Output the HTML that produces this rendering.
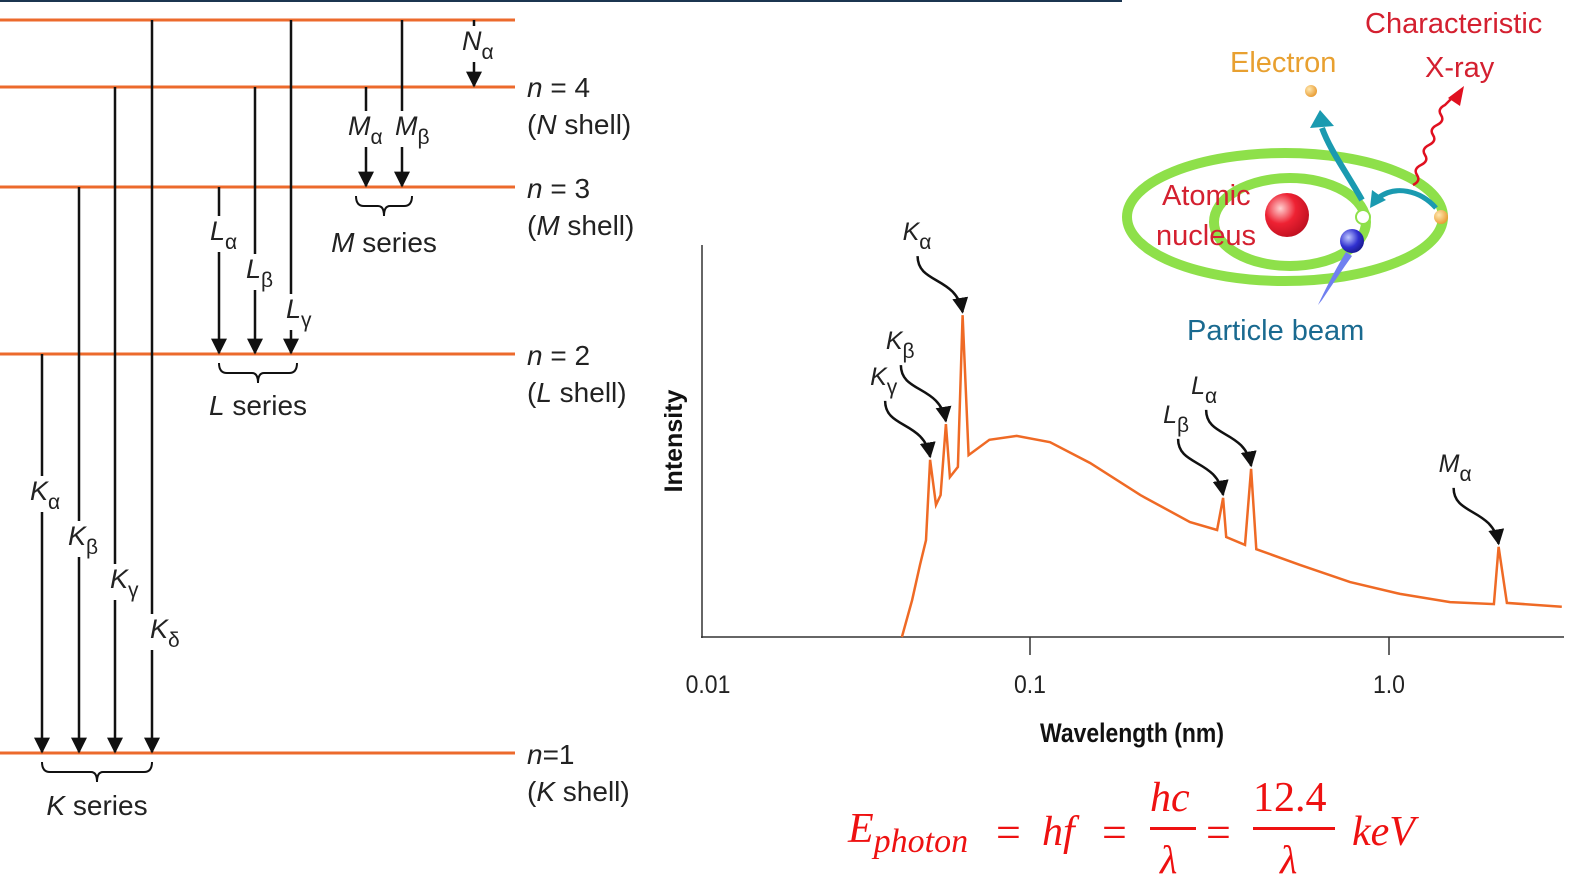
<!DOCTYPE html>
<html><head><meta charset="utf-8">
<style>
html,body{margin:0;padding:0;background:#fff;}
svg{display:block;font-family:"Liberation Sans",sans-serif;}
.lv{font-size:28px;fill:#222;}
.lab{font-size:27px;fill:#222;font-style:italic;}
.sub{font-size:21px;font-style:normal;}
</style></head>
<body>
<svg id="root" width="1582" height="883" viewBox="0 0 1582 883">
<defs>
<marker id="ah" viewBox="0 0 10 10" refX="9" refY="5" markerWidth="16" markerHeight="16" markerUnits="userSpaceOnUse" orient="auto"><path d="M0,0 L10,5 L0,10 z" fill="#111"/></marker>
<radialGradient id="gr" cx="0.35" cy="0.35" r="0.7"><stop offset="0" stop-color="#ffd0d0"/><stop offset="0.5" stop-color="#ee2233"/><stop offset="1" stop-color="#c01020"/></radialGradient>
<radialGradient id="gb" cx="0.35" cy="0.35" r="0.7"><stop offset="0" stop-color="#c0c8ff"/><stop offset="0.6" stop-color="#3030d0"/><stop offset="1" stop-color="#1a1a90"/></radialGradient>
<radialGradient id="go" cx="0.35" cy="0.35" r="0.7"><stop offset="0" stop-color="#ffe8b0"/><stop offset="1" stop-color="#e89a30"/></radialGradient>
</defs>
<rect x="0" y="0" width="1122" height="2" fill="#1b3550"/>

<g id="levels"></g>

<g id="spectrum"></g>

<g>
  <ellipse cx="1285" cy="217" rx="158" ry="64" fill="none" stroke="#8ee04a" stroke-width="10"/>
  <ellipse cx="1290" cy="222" rx="76" ry="44" fill="none" stroke="#8ee04a" stroke-width="10"/>
  <circle cx="1287" cy="215" r="22" fill="url(#gr)"/>
  <path d="M1346,252 C1335,270 1325,290 1318,305 L1322,300 C1332,285 1342,270 1352,256 z" fill="#7080f0"/>
  <circle cx="1352" cy="241" r="12" fill="url(#gb)"/>
  <circle cx="1363" cy="217" r="7" fill="#fff" stroke="#8ee04a" stroke-width="2"/>
  <circle cx="1441" cy="217" r="7" fill="url(#go)"/>
  <circle cx="1311" cy="91" r="6" fill="url(#go)"/>
  <path d="M1362,200 C1345,170 1330,150 1322,128" fill="none" stroke="#1a9ab0" stroke-width="6"/>
  <path d="M1310,128 L1320,110 L1334,126 z" fill="#1a9ab0"/>
  <path d="M1436,208 C1420,190 1395,185 1378,198" fill="none" stroke="#1a9ab0" stroke-width="5"/>
  <path d="M1370,208 L1372,190 L1386,200 z" fill="#1a9ab0"/>
  <path d="M1413,185 q8,-4 4,-10 q-4,-6 4,-10 q8,-4 4,-10 q-4,-6 4,-10 q8,-4 4,-10 q-4,-6 4,-10 q8,-4 4,-10 q-4,-6 4,-10 l6,-6" fill="none" stroke="#e01020" stroke-width="2.5"/>
  <path d="M1448,98 L1464,86 L1460,106 z" fill="#e01020"/>
  <text x="1230" y="72" font-size="29" fill="#e8a030">Electron</text>
  <text x="1365" y="33" font-size="29" fill="#d42030">Characteristic</text>
  <text x="1425" y="77" font-size="29" fill="#d42030">X-ray</text>
  <text x="1162" y="205" font-size="29" fill="#d42030">Atomic</text>
  <text x="1156" y="245" font-size="29" fill="#d42030">nucleus</text>
  <text x="1187" y="340" font-size="29" fill="#1a6a90">Particle beam</text>
</g>

<g fill="#ee1111" font-family="'Liberation Serif',serif" font-style="italic">
  <text x="848" y="842" font-size="42">E<tspan font-size="34" dy="10">photon</tspan></text>
  <text x="996" y="847" font-size="44" font-style="normal">=</text>
  <text x="1042" y="845" font-size="42">hf</text>
  <text x="1102" y="847" font-size="44" font-style="normal">=</text>
  <text x="1150" y="811" font-size="42">hc</text>
  <rect x="1150" y="827" width="46" height="3"/>
  <text x="1160" y="873" font-size="40">λ</text>
  <text x="1206" y="847" font-size="44" font-style="normal">=</text>
  <text x="1253" y="811" font-size="42" font-style="normal">12.4</text>
  <rect x="1253" y="827" width="82" height="3"/>
  <text x="1280" y="873" font-size="40">λ</text>
  <text x="1352" y="845" font-size="42">keV</text>
</g>
</svg>
<script>
// ===== Spectrum data =====
const wavelengths = [0.0407,0.0437,0.0462,0.0482,0.0496,0.0517,0.0534,0.0554,0.0570,0.0603,0.0623,0.0650,0.0752,0.0911,0.1137,0.147,0.203,0.279,0.332,0.345,0.352,0.397,0.413,0.427,0.565,0.779,1.073,1.48,1.96,2.02,2.13,3.03];
const intensities = [0,9.4,18.4,24.7,45.2,33.7,36.2,54.3,40.8,43.4,82.1,46.4,50.3,51.3,49.7,44.4,36.2,29.3,27.3,35.5,25.5,23.5,42.9,22.4,18.4,14,11,8.9,8.4,23,8.7,7.7];
const tickValues = [0.01,0.1,1.0];
const tickLabels = ["0.01","0.1","1.0"];
const peakNames = ["K","K","K","L","L","M"];
const peakSubs = ["γ","β","α","β","α","α"];
const peakLambda = [0.0496,0.0554,0.0623,0.345,0.413,2.02];
const peakIntensity = [45.2,54.3,82.1,35.5,42.9,23];

const NS="http://www.w3.org/2000/svg";
function mk(tag,attrs,parent){const e=document.createElementNS(NS,tag);for(const k in attrs)e.setAttribute(k,attrs[k]);parent.appendChild(e);return e;}
function xs(v){const l=Math.log10(v);if(l<=-1)return 702+(l+2)*328;return 1030+(l+1)*359;}
function ys(i){return 637-i*3.92;}

const sp=document.getElementById('spectrum');
const yAx=mk('line',{x1:702,y1:245,x2:702,y2:638,stroke:'#333','stroke-width':1.5},sp);


const xAx=mk('line',{x1:701,y1:637,x2:1564,y2:637,stroke:'#333','stroke-width':1.5},sp);


tickValues.forEach((v,i)=>{
  const x=xs(v);
  if(i>0){const t=mk('line',{x1:x,y1:637,x2:x,y2:655,stroke:'#333','stroke-width':1.5},sp);
  
  }
  const tx=mk('text',{x:i==0?x+6:x,y:693,'text-anchor':'middle','font-size':25,fill:'#222'},sp);
  tx.setAttribute('transform',`translate(${(i==0?x+6:x)*0.08},0) scale(0.92,1)`);
  tx.textContent=tickLabels[i];
  
  
});
const xt=mk('text',{x:1132/0.85,y:742,'text-anchor':'middle','font-size':27,'font-weight':'bold',fill:'#111',transform:'scale(0.85,1)'},sp);
xt.textContent='Wavelength (nm)';


const yt=mk('text',{x:0,y:0,'text-anchor':'middle','font-size':25,'font-weight':'bold',fill:'#111',transform:'translate(682,441) rotate(-90)'},sp);
yt.textContent='Intensity';


let d='';wavelengths.forEach((w,i)=>{d+=(i?'L':'M')+xs(w).toFixed(1)+','+ys(intensities[i]).toFixed(1);});
const line=mk('path',{d:d,fill:'none',stroke:'#ef6a25','stroke-width':2.5,'stroke-linejoin':'miter'},sp);


peakLambda.forEach((w,i)=>{
  const ex=xs(w), ey=ys(peakIntensity[i])-3;
  const sx=ex-45, sy=ey-56;
  const a=mk('path',{d:`M${sx},${sy} C${sx},${sy+28} ${ex-6},${ey-36} ${ex},${ey}`,fill:'none',stroke:'#111','stroke-width':2.5,'marker-end':'url(#ah)'},sp);
  
  
  const t=mk('text',{x:sx-15,y:sy-16,'font-size':25,'font-style':'italic',fill:'#222'},sp);
  t.innerHTML=peakNames[i]+`<tspan font-style="normal" font-size="21" dy="9">${peakSubs[i]}</tspan>`;
  
  
});

// ===== Energy levels =====
const lv=document.getElementById('levels');
const levelY=[20,87,187,354,753];
levelY.forEach(y=>{const l=mk('line',{x1:0,y1:y,x2:515,y2:y,stroke:'#ec6a2c','stroke-width':3},lv);

});
const trans=[[42,354,753,'K','α',30,500],[79,187,753,'K','β',68,545],[115,87,753,'K','γ',110,588],[152,20,753,'K','δ',150,638],
[219,187,354,'L','α',210,240],[255,87,354,'L','β',246,278],[291,20,354,'L','γ',286,318],
[366,87,187,'M','α',348,135],[402,20,187,'M','β',395,135],[474,20,87,'N','α',462,50]];
trans.forEach(t=>{
  const a=mk('line',{x1:t[0],y1:t[1],x2:t[0],y2:t[2]-1,stroke:'#111','stroke-width':2.5,'marker-end':'url(#ah)'},lv);
  
  
  mk('rect',{x:t[5]-2,y:t[6]-24,width:34,height:36,fill:'#fff'},lv);
  const tx=mk('text',{x:t[5],y:t[6],class:'lab'},lv);
  tx.innerHTML=t[3]+`<tspan class="sub" dy="9">${t[4]}</tspan>`;
  
  
});
function brace(x1,x2,y,label,ly){
  const m=(x1+x2)/2;
  const p=mk('path',{d:`M${x1},${y} q0,10 8,10 L${m-6},${y+10} q6,0 6,10 q0,-10 6,-10 L${x2-8},${y+10} q8,0 8,-10`,fill:'none',stroke:'#111','stroke-width':2},lv);
  
  
  const t=mk('text',{x:m,y:ly,'text-anchor':'middle',class:'lv'},lv);
  t.innerHTML=`<tspan font-style="italic">${label}</tspan> series`;
  
  
}
brace(42,152,762,'K',815);brace(219,297,363,'L',415);brace(356,412,196,'M',252);
const shells=[[4,'N',97],[3,'M',198],[2,'L',365],[1,'K',764]];
shells.forEach(s=>{
  const a=mk('text',{x:527,y:s[2],class:'lv'},lv);
  a.innerHTML=s[0]==1?`<tspan font-style="italic">n</tspan>=1`:`<tspan font-style="italic">n</tspan> = ${s[0]}`;
  
  
  const b=mk('text',{x:527,y:s[2]+37,class:'lv'},lv);
  b.innerHTML=`(<tspan font-style="italic">${s[1]}</tspan> shell)`;
  
  
});
</script>
</body></html>
